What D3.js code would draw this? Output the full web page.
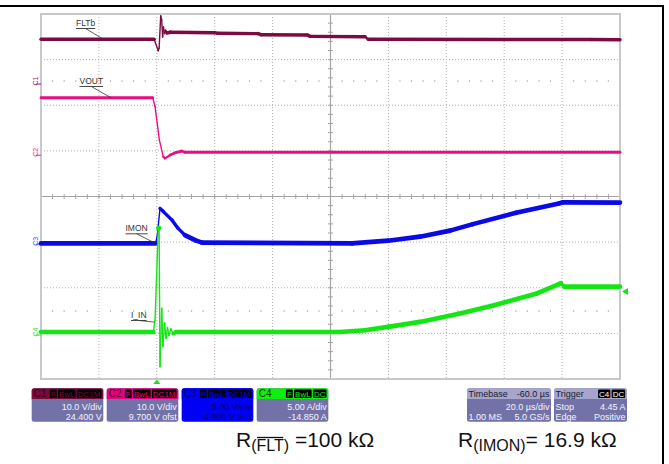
<!DOCTYPE html>
<html><head><meta charset="utf-8">
<script src="https://cdn.jsdelivr.net/npm/d3@7/dist/d3.min.js"></script>
<style>
body{margin:0;background:#fff}
svg{display:block;font-family:"Liberation Sans",Arial,Helvetica,sans-serif}
</style></head>
<body><svg id="c" width="669" height="464"></svg>
<script>
// ---------------- DATA ----------------
const timeDomain = [-40, 160];          // µs  (20 µs/div, trigger at 0)
const timePerDiv = 20;
const divRange = [-4, 4];

const channelNames   = ["C1", "C2", "C3", "C4"];
const traceLabels    = ["FLTb", "VOUT", "IMON", "I_IN"];
const unitsPerDiv    = [10, 10, 5, 5];          // V/div, V/div, V/div, A/div
const channelOffsets = [24.4, 9.7, -4.9, -14.85];
const scaleTexts     = ["10.0 V/div", "10.0 V/div", "5.00 V/div", "5.00 A/div"];
const offsetTexts    = ["24.400 V", "9.700 V ofst", "-4.900 V ofst", "-14.850 A"];
const badgeTexts     = [["F","BwL","DC1M"],["F","BwL","DC1M"],["F","BwL","DC1M"],["F","BwL","DC"]];
const markerDivs     = [2.53, 0.97, -0.98, -2.97];
const refDotDivs     = [2.53, -2.51];

// FLTb (V)
const fltT = [-40, -0.9, 0.5, 0.8, 1.35, 1.7, 2.0, 2.3, 2.66, 3.0, 3.5, 4.6, 20, 21, 35, 36, 52, 53, 72, 73, 150, 160];
const fltV = [10.05, 10.05, 7.55, 8.1, 15.2, 14.3, 10.55, 12.75, 11.3, 12.0, 11.43, 11.6, 11.5, 11.37, 11.3, 11.06, 11.0, 10.7, 10.6, 10.05, 10.0, 9.95];
// VOUT (V)
const voutT = [-40, -1.4, -0.6, 0.9, 2.25, 2.85, 4.6, 6.6, 8.6, 9.7, 160];
const voutV = [11.94, 11.94, 9.97, 2.67, -1.0, -1.34, -0.62, -0.07, 0.26, 0, 0];
// IMON (V)
const imonT = [-40, -0.4, 0.2, 1.1, 2.1, 5.25, 7.3, 9.7, 13.2, 15.6, 67.4, 79.9, 90.9, 101.3, 109.2, 124.1, 138.9, 140.3, 160];
const imonV = [-0.24, -0.24, 0.7, 3.6, 3.3, 2.31, 1.43, 0.67, 0.12, -0.15, -0.24, 0.06, 0.50, 1.16, 1.87, 3.11, 4.14, 4.26, 4.23];
// I_IN (A)
const iinT = [-40, -1.2, -0.6, 0.5, 0.8, 1.1, 1.7, 2.1, 2.7, 3.2, 3.7, 4.2, 4.9, 5.6, 6.6, 63.3, 71.9, 79.9, 90.9, 104.7, 116.5, 131.3, 138.9, 139.6, 140.7, 160];
const iinA = [0, 0, 1.3, 11.4, 11.4, -3.8, 2.6, -1.6, 1.0, -0.7, 0.5, -0.4, 0.35, -0.2, 0, 0, 0.2, 0.56, 1.11, 2.03, 2.94, 4.23, 5.25, 5.35, 4.97, 4.97];

const timebaseTexts = ["Timebase", "-60.0 µs", "20.0 µs/div", "1.00 MS", "5.0 GS/s"];
const triggerTexts  = ["Trigger", "Stop", "4.45 A", "Edge", "Positive"];
const triggerBadges = ["C4", "DC"];
const triggerLevel = 4.45;   // A on C4

// ---------------- STYLE ----------------
const traceColors = ["#7b0b40", "#ec0b80", "#0a0ae6", "#14e614"];
const markerColors = ["#a0207a", "#ec2b90", "#4a4aff", "#30e030"];
const traceWidths = [3.4, 2.8, 4.6, 4.6];
const headerColors = ["#7a0a3a", "#e6007e", "#0000f5", "#10ee10"];
const bodyColors = ["#7272a8", "#7272a8", "#0000f5", "#7272a8"];
const bodyTextColors = ["#f4f4ff", "#f4f4ff", "#000070", "#f4f4ff"];
const headerTextColors = ["#3a0018", "#5a0030", "#000070", "#004000"];

const svg = d3.select("#c");
const plot = {l: 41, r: 620, t: 14, b: 379};
const x = d3.scaleLinear().domain(timeDomain).range([plot.l, plot.r]);
const y = d3.scaleLinear().domain(divRange).range([plot.b, plot.t]);
const toDiv = (ch, v) => (v + channelOffsets[ch]) / unitsPerDiv[ch];

// outer frame
svg.append("line").attr("x1", 0).attr("x2", 664).attr("y1", 6).attr("y2", 6).attr("stroke", "#000").attr("stroke-width", 2);
svg.append("line").attr("x1", 663).attr("x2", 663).attr("y1", 5).attr("y2", 464).attr("stroke", "#000").attr("stroke-width", 2);

// grid
const grid = svg.append("g");
const majorT = d3.range(timeDomain[0], timeDomain[1] + 0.001, timePerDiv);
const majorD = d3.range(divRange[0], divRange[1] + 0.001, 1);
const centerT = (timeDomain[0] + timeDomain[1]) / 2;
grid.selectAll(".vg").data(majorT.slice(1, -1).filter(t => t !== centerT)).join("line")
  .attr("x1", d => x(d)).attr("x2", d => x(d)).attr("y1", plot.t).attr("y2", plot.b)
  .attr("stroke", "#b0b0b0").attr("stroke-dasharray", "1,2");
grid.selectAll(".hg").data(majorD.slice(1, -1).filter(d => d !== 0)).join("line")
  .attr("x1", plot.l).attr("x2", plot.r).attr("y1", d => y(d)).attr("y2", d => y(d))
  .attr("stroke", "#b0b0b0").attr("stroke-dasharray", "1,2");
// centre lines
grid.append("line").attr("x1", x(centerT)).attr("x2", x(centerT)).attr("y1", plot.t).attr("y2", plot.b).attr("stroke", "#a4a4a4").attr("stroke-width", 1.2);
grid.append("line").attr("x1", plot.l).attr("x2", plot.r).attr("y1", y(0)).attr("y2", y(0)).attr("stroke", "#a4a4a4").attr("stroke-width", 1.2);
// minor ticks
grid.selectAll(".mt").data(d3.range(timeDomain[0], timeDomain[1] + 0.001, timePerDiv / 5)).join("line")
  .attr("x1", d => x(d)).attr("x2", d => x(d)).attr("y1", y(0) - 2.5).attr("y2", y(0) + 2.5)
  .attr("stroke", "#a4a4a4");
grid.selectAll(".md").data(d3.range(divRange[0], divRange[1] + 0.001, 0.2)).join("line")
  .attr("x1", x(centerT) - 2.5).attr("x2", x(centerT) + 2.5).attr("y1", d => y(d)).attr("y2", d => y(d))
  .attr("stroke", "#a4a4a4");
// sparse reference dots
const minorT = d3.range(timeDomain[0], timeDomain[1] + 0.001, timePerDiv / 5).filter((t, i) => i % 5 !== 0);
refDotDivs.forEach(dv => {
  grid.selectAll(null).data(minorT).join("rect")
    .attr("x", d => x(d) - 0.6).attr("y", y(dv) - 0.6).attr("width", 1.2).attr("height", 1.2)
    .attr("fill", "#9a9a9a");
});
// border
grid.append("rect").attr("x", plot.l).attr("y", plot.t).attr("width", plot.r - plot.l).attr("height", plot.b - plot.t)
  .attr("fill", "none").attr("stroke", "#c8c8c8").attr("stroke-width", 2);

// channel markers
channelNames.forEach((n, i) => {
  const yy = y(markerDivs[i]);
  svg.append("text").attr("transform", `translate(38,${yy}) rotate(-90)`)
    .attr("text-anchor", "middle").attr("font-size", 7).attr("fill", markerColors[i]).text(n);
  svg.append("line").attr("x1", 36).attr("x2", 41).attr("y1", yy + 3).attr("y2", yy + 3)
    .attr("stroke", markerColors[i]).attr("stroke-width", 1);
});

// traces
const traces = [[fltT, fltV], [voutT, voutV], [imonT, imonV], [iinT, iinA]];
const tg = svg.append("g");
traces.forEach(([ts, vs], ch) => {
  const pts = ts.map((t, i) => [x(t), y(toDiv(ch, vs[i]))]);
  const segs = d3.pairs(pts);
  tg.selectAll(null).data(segs).join("line")
    .attr("x1", d => d[0][0]).attr("y1", d => d[0][1]).attr("x2", d => d[1][0]).attr("y2", d => d[1][1])
    .attr("stroke", traceColors[ch]).attr("stroke-linecap", "round")
    .attr("stroke-width", d => {
      const s = Math.abs((d[1][1] - d[0][1]) / Math.max(0.01, d[1][0] - d[0][0]));
      return s > 2 ? 1.4 : (s > 0.6 ? Math.max(2.2, traceWidths[ch] - 1.2) : traceWidths[ch]);
    });
});

// trace labels with leaders
const labelPos = [[76, 26, -18.4], [79.5, 84, -15.8], [125.5, 231.3, -0.4], [131, 318, -0.7]];
traces.forEach(([ts, vs], ch) => {
  const [lx, ly, at] = labelPos[ch];
  const txt = svg.append("text").attr("x", lx).attr("y", ly).attr("font-size", 8.5).attr("fill", "#333").text(traceLabels[ch]);
  const w = txt.node().getComputedTextLength();
  const av = d3.scaleLinear().domain(ts).range(vs)(at);
  svg.append("line").attr("x1", lx).attr("x2", lx + w).attr("y1", ly + 2.5).attr("y2", ly + 2.5).attr("stroke", "#333").attr("stroke-width", 0.9);
  svg.append("line").attr("x1", lx + w * 0.5).attr("y1", ly + 2.5).attr("x2", x(at)).attr("y2", y(toDiv(ch, av)))
    .attr("stroke", "#333").attr("stroke-width", 0.8);
});

// trigger markers
svg.append("path").attr("d", `M${x(0) - 3.5},${plot.b + 5} L${x(0) + 3.5},${plot.b + 5} L${x(0)},${plot.b + 0.5} Z`).attr("fill", "#14e614");
const ty = y(toDiv(3, triggerLevel));
svg.append("path").attr("d", `M${plot.r + 8},${ty - 3.5} L${plot.r + 8},${ty + 3.5} L${plot.r + 2},${ty} Z`).attr("fill", "#14e614");

// channel info boxes
function badgeRow(g, texts, xRight, yTop, textColor) {
  let xr = xRight;
  for (let i = texts.length - 1; i >= 0; i--) {
    const t = g.append("text").attr("y", yTop + 7.3).attr("font-size", 8).attr("fill", textColor).text(texts[i]);
    const w = t.node().getComputedTextLength() + 2;
    g.insert("rect", "text").attr("x", xr - w).attr("y", yTop).attr("width", w).attr("height", 8.6).attr("rx", 1.2).attr("fill", "#000");
    t.attr("x", xr - w + 1);
    xr -= w + 1.3;
  }
}
const boxY = 388.3, boxH = 33.4, hdrH = 10.8, boxW = 71.6;
channelNames.forEach((n, i) => {
  const x0 = 31.7 + i * 75;
  const g = svg.append("g");
  g.append("rect").attr("x", x0).attr("y", boxY).attr("width", boxW).attr("height", boxH).attr("rx", 2.5).attr("fill", bodyColors[i]);
  g.append("path").attr("d", `M${x0},${boxY + hdrH} V${boxY + 2.5} Q${x0},${boxY} ${x0 + 2.5},${boxY} H${x0 + boxW - 2.5} Q${x0 + boxW},${boxY} ${x0 + boxW},${boxY + 2.5} V${boxY + hdrH} Z`).attr("fill", headerColors[i]);
  g.append("text").attr("x", x0 + 2).attr("y", boxY + 8.8).attr("font-size", 10).attr("fill", headerTextColors[i]).text(n);
  badgeRow(g, badgeTexts[i], x0 + boxW - 1.8, boxY + 1.2, headerColors[i]);
  g.append("text").attr("x", x0 + boxW - 1.5).attr("y", boxY + 21.5).attr("text-anchor", "end").attr("font-size", 9).attr("fill", bodyTextColors[i]).text(scaleTexts[i]);
  g.append("text").attr("x", x0 + boxW - 1.5).attr("y", boxY + 32).attr("text-anchor", "end").attr("font-size", 9).attr("fill", bodyTextColors[i]).text(offsetTexts[i]);
});

// timebase box
(function () {
  const x0 = 467, w = 84;
  const g = svg.append("g");
  g.append("rect").attr("x", x0).attr("y", boxY).attr("width", w).attr("height", boxH).attr("rx", 2.5).attr("fill", "#7272a8");
  g.append("path").attr("d", `M${x0},${boxY + hdrH} V${boxY + 2.5} Q${x0},${boxY} ${x0 + 2.5},${boxY} H${x0 + w - 2.5} Q${x0 + w},${boxY} ${x0 + w},${boxY + 2.5} V${boxY + hdrH} Z`).attr("fill", "#a6a6cc");
  g.append("text").attr("x", x0 + 1.5).attr("y", boxY + 8.6).attr("font-size", 9).attr("fill", "#1a1a30").text(timebaseTexts[0]);
  g.append("text").attr("x", x0 + w - 1.5).attr("y", boxY + 8.6).attr("text-anchor", "end").attr("font-size", 9).attr("fill", "#1a1a30").text(timebaseTexts[1]);
  g.append("text").attr("x", x0 + w - 1.5).attr("y", boxY + 21.5).attr("text-anchor", "end").attr("font-size", 9).attr("fill", "#f4f4ff").text(timebaseTexts[2]);
  g.append("text").attr("x", x0 + 1.5).attr("y", boxY + 32).attr("font-size", 9).attr("fill", "#f4f4ff").text(timebaseTexts[3]);
  g.append("text").attr("x", x0 + w - 1.5).attr("y", boxY + 32).attr("text-anchor", "end").attr("font-size", 9).attr("fill", "#f4f4ff").text(timebaseTexts[4]);
})();
// trigger box
(function () {
  const x0 = 554, w = 73;
  const g = svg.append("g");
  g.append("rect").attr("x", x0).attr("y", boxY).attr("width", w).attr("height", boxH).attr("rx", 2.5).attr("fill", "#7272a8");
  g.append("path").attr("d", `M${x0},${boxY + hdrH} V${boxY + 2.5} Q${x0},${boxY} ${x0 + 2.5},${boxY} H${x0 + w - 2.5} Q${x0 + w},${boxY} ${x0 + w},${boxY + 2.5} V${boxY + hdrH} Z`).attr("fill", "#a6a6cc");
  g.append("text").attr("x", x0 + 1.5).attr("y", boxY + 8.6).attr("font-size", 9).attr("fill", "#1a1a30").text(triggerTexts[0]);
  badgeRow(g, triggerBadges, x0 + w - 1.8, boxY + 1.2, "#ffffff");
  g.append("text").attr("x", x0 + 1.5).attr("y", boxY + 21.5).attr("font-size", 9).attr("fill", "#f4f4ff").text(triggerTexts[1]);
  g.append("text").attr("x", x0 + w - 1.5).attr("y", boxY + 21.5).attr("text-anchor", "end").attr("font-size", 9).attr("fill", "#f4f4ff").text(triggerTexts[2]);
  g.append("text").attr("x", x0 + 1.5).attr("y", boxY + 32).attr("font-size", 9).attr("fill", "#f4f4ff").text(triggerTexts[3]);
  g.append("text").attr("x", x0 + w - 1.5).attr("y", boxY + 32).attr("text-anchor", "end").attr("font-size", 9).attr("fill", "#f4f4ff").text(triggerTexts[4]);
})();

// resistor annotations
function rLabel(x0, sub, overline, rest) {
  const g = svg.append("g").attr("fill", "#111");
  const r = g.append("text").attr("x", x0).attr("y", 447).attr("font-size", 21).text("R");
  let cx = x0 + r.node().getComputedTextLength();
  const s = g.append("text").attr("x", cx).attr("y", 451).attr("font-size", 16);
  s.append("tspan").text("(");
  const mid = s.append("tspan").text(sub);
  s.append("tspan").text(")");
  if (overline) {
    const pw = 16 * 0.333;
    const mw = mid.node().getComputedTextLength();
    g.append("line").attr("x1", cx + pw + 0.5).attr("x2", cx + pw + mw - 0.5).attr("y1", 437.5).attr("y2", 437.5).attr("stroke", "#111").attr("stroke-width", 1.3);
  }
  cx += s.node().getComputedTextLength();
  g.append("text").attr("x", cx).attr("y", 447).attr("font-size", 21).text(rest);
}
rLabel(236, "FLT", true, "\u00a0=100 kΩ");
rLabel(458, "IMON", false, "= 16.9 kΩ");
</script></body></html>
